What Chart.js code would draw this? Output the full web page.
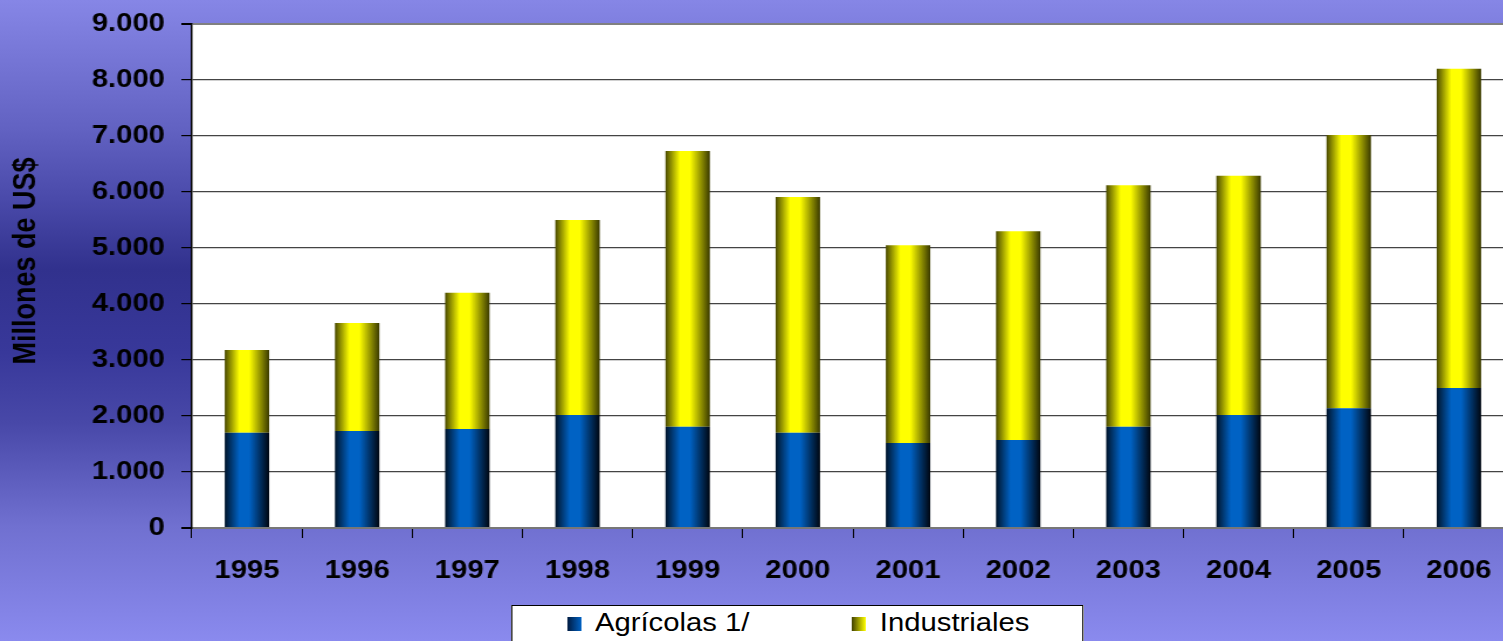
<!DOCTYPE html>
<html>
<head>
<meta charset="utf-8">
<script src="https://cdn.jsdelivr.net/npm/chart.js@4"></script>
<style>
  body {
    margin: 0;
    width: 1503px;
    height: 641px;
    overflow: hidden;
    font-family: "Liberation Sans", Arial, sans-serif;
    background: linear-gradient(to bottom, #8686e6 0%, #7474d4 10%, #6262c2 20%, #4a4aaa 31%, #31318d 42%, #38389a 55%, #4848a8 66%, #7070d0 82%, #8a8aee 100%);
  }
  #wrap {
    position: absolute;
    left: 0;
    top: 0;
    width: 1314px;
    height: 641px;
    transform: scaleX(1.17);
    transform-origin: 0 0;
  }
  #legend {
    position: absolute;
    left: 437px;
    top: 605px;
    width: 489px;
    height: 60px;
    background: #fff;
    border: 1px solid #000;
    box-sizing: border-box;
  }
  .swatch {
    position: absolute;
    top: 11px;
    width: 12px;
    height: 14px;
  }
  .label {
    position: absolute;
    top: 1px;
    font-size: 25px;
    line-height: 30px;
    color: #000;
    white-space: nowrap;
  }
</style>
</head>
<body>
<div id="wrap">
  <canvas id="chart" width="1314" height="641"></canvas>
  <div id="legend"></div>
</div>
<script>
const years = ['1995', '1996', '1997', '1998', '1999', '2000', '2001', '2002', '2003', '2004', '2005', '2006'];
const agricolas = [1700, 1730, 1770, 2020, 1810, 1700, 1520, 1570, 1810, 2020, 2140, 2500];
const industriales = [1480, 1930, 2430, 3480, 4920, 4210, 3530, 3730, 4310, 4270, 4880, 5700];
const seriesNames = ['Agrícolas 1/', 'Industriales'];
const yTitle = 'Millones de US$';

const barPct = 0.403;
const blueStops = [[0, '#00142a'], [0.33, '#0062c4'], [0.55, '#0062c4'], [1, '#000610']];
const yellowStops = [[0, '#4a4a00'], [0.33, '#ffff00'], [0.55, '#ffff00'], [1, '#3a3a00']];

// cylinder-like shading, one gradient per bar
function barFill(stops, fallback) {
  return function (ctx) {
    const chart = ctx.chart;
    const x = chart.scales.x;
    if (!chart.chartArea || !x || ctx.type !== 'data') return fallback;
    const cx = x.getPixelForValue(ctx.dataIndex);
    const half = (x.width / years.length) * barPct / 2;
    const g = chart.ctx.createLinearGradient(cx - half, 0, cx + half, 0);
    stops.forEach(s => g.addColorStop(s[0], s[1]));
    return g;
  };
}

function fmt(v) {
  return String(v).replace(/\B(?=(\d{3})+(?!\d))/g, '.');
}

const backdrop = {
  id: 'backdrop',
  beforeDraw(chart) {
    const { ctx, chartArea } = chart;
    ctx.save();
    ctx.fillStyle = '#fff';
    ctx.fillRect(chartArea.left, chartArea.top, chartArea.right - chartArea.left, chartArea.bottom - chartArea.top);
    ctx.translate(23, 261);
    ctx.rotate(-Math.PI / 2);
    ctx.font = 'bold 27px "Liberation Sans", Arial, sans-serif';
    ctx.fillStyle = '#000';
    ctx.textAlign = 'center';
    ctx.textBaseline = 'middle';
    ctx.fillText(yTitle, 0, 0);
    ctx.restore();
  }
};

const tickFont = { family: '"Liberation Sans", Arial, sans-serif', size: 25, weight: 'bold' };

const chart = new Chart(document.getElementById('chart'), {
  type: 'bar',
  data: {
    labels: years,
    datasets: [
      {
        label: seriesNames[0],
        data: agricolas,
        backgroundColor: barFill(blueStops, '#0062c4'),
        categoryPercentage: 1,
        barPercentage: barPct,
      },
      {
        label: seriesNames[1],
        data: industriales,
        backgroundColor: barFill(yellowStops, '#ffff00'),
        categoryPercentage: 1,
        barPercentage: barPct,
      },
    ],
  },
  options: {
    responsive: false,
    animation: false,
    layout: { padding: { top: 24, right: 20, left: 0, bottom: 0 } },
    plugins: {
      legend: { display: false },
      tooltip: { enabled: false },
    },
    scales: {
      x: {
        stacked: true,
        grid: {
          offset: true,
          drawOnChartArea: false,
          drawTicks: true,
          tickLength: 10,
          color: '#000',
          lineWidth: 1,
        },
        border: { color: '#777', width: 2 },
        ticks: { font: tickFont, color: '#000', padding: 18, maxRotation: 0 },
        afterFit: s => { s.height = 113; },
      },
      y: {
        stacked: true,
        min: 0,
        max: 9000,
        ticks: {
          stepSize: 1000,
          font: tickFont,
          color: '#000',
          padding: 14,
          callback: v => fmt(v),
        },
        grid: {
          color: c => (c.index === 0 || c.index === 9 ? '#808080' : '#444'),
          lineWidth: c => (c.index === 0 || c.index === 9 ? 2 : 1.2),
          tickColor: '#000',
          tickLength: 9,
        },
        border: { color: '#000', width: 1.5 },
        afterFit: s => {
          s.width = 164;
          s.paddingTop = 0;
          s.paddingBottom = 0;
        },
      },
    },
  },
  plugins: [backdrop],
});

// legend as a white box under the plot
const legend = document.getElementById('legend');
const legendPos = [[46.6, 70.5], [290, 314]];
const swatchCss = [
  'linear-gradient(to right, #001a40, #0062c4)',
  'linear-gradient(to right, #404000, #ffff00)',
];
chart.data.datasets.forEach((ds, i) => {
  const sw = document.createElement('div');
  sw.className = 'swatch';
  sw.style.left = legendPos[i][0] + 'px';
  sw.style.background = swatchCss[i];
  legend.appendChild(sw);
  const lb = document.createElement('div');
  lb.className = 'label';
  lb.style.left = legendPos[i][1] + 'px';
  lb.textContent = ds.label;
  legend.appendChild(lb);
});
</script>
</body>
</html>
